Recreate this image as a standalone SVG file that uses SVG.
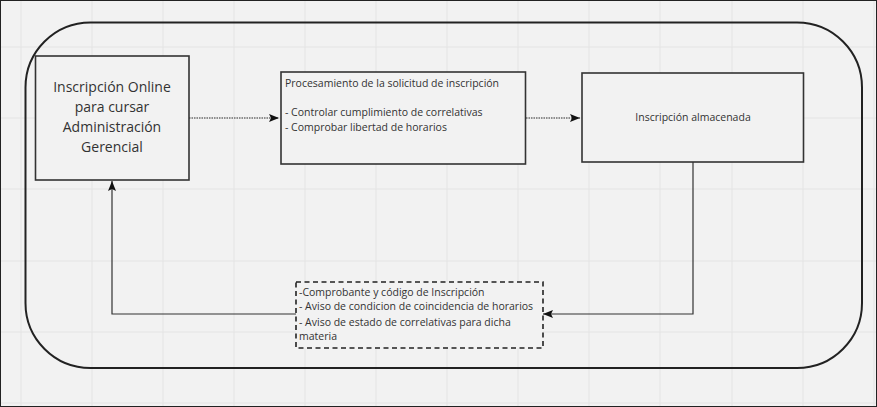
<svg xmlns="http://www.w3.org/2000/svg" width="877" height="407" viewBox="0 0 877 407">
<style>
.grid{stroke:#e4e4e4;stroke-width:1}
.box{fill:#f2f2f2;stroke:#333;stroke-width:1.6}
.dash{fill:#f2f2f2;stroke:#222;stroke-width:1.6;stroke-dasharray:5 3.5}
.t{font-family:"Open Sans","Liberation Sans",sans-serif;fill:#333}
.big{font-size:14px;text-anchor:middle}
.sm{font-size:10.5px}
.conn{fill:none;stroke:#333;stroke-width:1.2}
.dot{stroke-dasharray:1.5 1}
</style>
<defs>
<marker id="ah" viewBox="0 0 10 8" refX="10" refY="4" markerWidth="10" markerHeight="8" markerUnits="userSpaceOnUse" orient="auto">
<path d="M0,0 L10,4 L0,8 L2,4 Z" fill="#111"/>
</marker>
</defs>
<rect x="0" y="0" width="877" height="407" fill="#f2f2f2"/>
<g class="grid">
<path d="M21,0V407M92,0V407M163,0V407M234,0V407M305,0V407M376,0V407M447,0V407M518,0V407M589,0V407M660,0V407M732,0V407M803,0V407M874,0V407"/>
<path d="M0,47H877M0,118H877M0,189H877M0,261H877M0,332H877M0,403H877"/>
</g>
<rect x="0.5" y="0.5" width="876" height="406" fill="none" stroke="#222" stroke-width="1"/>
<rect id="frame" x="25.5" y="22.5" width="836.5" height="345.5" rx="65" ry="65" fill="none" stroke="#222" stroke-width="2"/>
<g id="connectors">
<path class="conn dot" d="M189,118H279" marker-end="url(#ah)"/>
<path class="conn dot" d="M526,118H580" marker-end="url(#ah)"/>
<path class="conn" d="M693,162V314H543" marker-end="url(#ah)"/>
<path class="conn" d="M296,314H112V181" marker-end="url(#ah)"/>
</g>
<g id="node-online">
<rect class="box" x="35.5" y="56" width="153.5" height="124"/>
<text class="t big" x="112" y="92">Inscripción Online</text>
<text class="t big" x="112" y="112">para cursar</text>
<text class="t big" x="112" y="132">Administración</text>
<text class="t big" x="112" y="152">Gerencial</text>
</g>
<g id="node-procesamiento">
<rect class="box" x="281" y="72" width="244.5" height="92"/>
<text class="t sm" x="285" y="86.5">Procesamiento de la solicitud de inscripción</text>
<text class="t sm" x="285" y="116">- Controlar cumplimiento de correlativas</text>
<text class="t sm" x="285" y="131">- Comprobar libertad de horarios</text>
</g>
<g id="node-almacenada">
<rect class="box" x="582" y="73" width="221.5" height="89"/>
<text class="t sm" x="693" y="121" text-anchor="middle">Inscripción almacenada</text>
</g>
<g id="node-comprobante">
<rect class="dash" x="296" y="282" width="247" height="66"/>
<text class="t sm" x="299" y="296">-Comprobante y código de Inscripción</text>
<text class="t sm" x="299" y="310">- Aviso de condicion de coincidencia de horarios</text>
<text class="t sm" x="299" y="326">- Aviso de estado de correlativas para dicha</text>
<text class="t sm" x="299" y="340">materia</text>
</g>
</svg>
